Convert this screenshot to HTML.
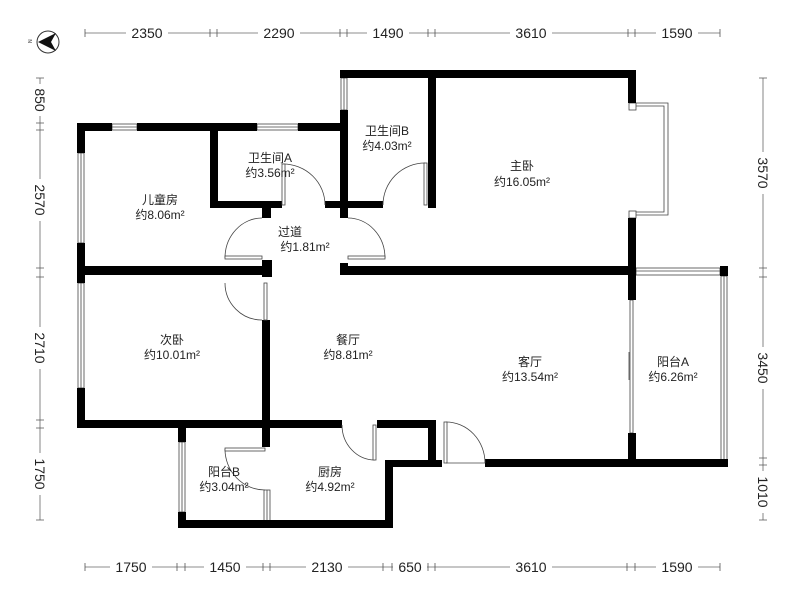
<!DOCTYPE html>
<html><head><meta charset="utf-8"><style>
html,body{margin:0;padding:0;background:#fff;}
svg{display:block;}
text{font-family:"Liberation Sans","Noto Sans CJK SC",sans-serif;}
</style></head><body>
<svg width="800" height="600" viewBox="0 0 800 600" xmlns="http://www.w3.org/2000/svg">
<rect width="800" height="600" fill="#fff"/>
<!-- compass -->
<circle cx="48" cy="42" r="11" fill="none" stroke="#333" stroke-width="1"/>
<polygon points="38,42 56,33 51,42 56,51" fill="#111"/>
<text x="30" y="45" font-size="5" fill="#333" transform="rotate(-90 30 43)">N</text>

<!-- dimension lines -->
<g stroke="#666" stroke-width="0.8" fill="none">
<line x1="85" y1="33" x2="720" y2="33"/>
<line x1="85" y1="567" x2="720" y2="567"/>
<line x1="40" y1="78" x2="40" y2="520"/>
<line x1="763" y1="78" x2="763" y2="520"/>
<g stroke="#555">
<path d="M85,29v8M210,29v8M217,29v8M340,29v8M347,29v8M428,29v8M435,29v8M628,29v8M635,29v8M720,29v8"/>
<path d="M85,563v8M177,563v8M185,563v8M263,563v8M270,563v8M383,563v8M392,563v8M428,563v8M435,563v8M627,563v8M635,563v8M720,563v8"/>
<path d="M36,78h8M36,123h8M36,130h8M36,268h8M36,277h8M36,420h8M36,428h8M36,520h8"/>
<path d="M759,78h8M759,268h8M759,277h8M759,458h8M759,465h8M759,520h8"/>
</g>
</g>
<g font-size="14" fill="#222" text-anchor="middle">
<rect x="126" y="25" width="42" height="16" fill="#fff"/><text x="147" y="38">2350</text>
<rect x="258" y="25" width="42" height="16" fill="#fff"/><text x="279" y="38">2290</text>
<rect x="367" y="25" width="42" height="16" fill="#fff"/><text x="388" y="38">1490</text>
<rect x="510" y="25" width="42" height="16" fill="#fff"/><text x="531" y="38">3610</text>
<rect x="656" y="25" width="42" height="16" fill="#fff"/><text x="677" y="38">1590</text>
<rect x="110" y="559" width="42" height="16" fill="#fff"/><text x="131" y="572">1750</text>
<rect x="204" y="559" width="42" height="16" fill="#fff"/><text x="225" y="572">1450</text>
<rect x="306" y="559" width="42" height="16" fill="#fff"/><text x="327" y="572">2130</text>
<rect x="393" y="559" width="34" height="16" fill="#fff"/><text x="410" y="572">650</text>
<rect x="510" y="559" width="42" height="16" fill="#fff"/><text x="531" y="572">3610</text>
<rect x="656" y="559" width="42" height="16" fill="#fff"/><text x="677" y="572">1590</text>
<g transform="translate(40,100) rotate(90)"><rect x="-16" y="-9" width="32" height="16" fill="#fff"/><text x="0" y="5">850</text></g>
<g transform="translate(40,200) rotate(90)"><rect x="-21" y="-9" width="42" height="16" fill="#fff"/><text x="0" y="5">2570</text></g>
<g transform="translate(40,348) rotate(90)"><rect x="-21" y="-9" width="42" height="16" fill="#fff"/><text x="0" y="5">2710</text></g>
<g transform="translate(40,474) rotate(90)"><rect x="-21" y="-9" width="42" height="16" fill="#fff"/><text x="0" y="5">1750</text></g>
<g transform="translate(763,173) rotate(90)"><rect x="-21" y="-9" width="42" height="16" fill="#fff"/><text x="0" y="5">3570</text></g>
<g transform="translate(763,368) rotate(90)"><rect x="-21" y="-9" width="42" height="16" fill="#fff"/><text x="0" y="5">3450</text></g>
<g transform="translate(763,492) rotate(90)"><rect x="-21" y="-9" width="42" height="16" fill="#fff"/><text x="0" y="5">1010</text></g>
</g>

<!-- windows (thin lines) -->
<g stroke="#444" stroke-width="0.8" fill="#fff">
<rect x="112" y="124" width="25" height="6"/><line x1="112" y1="127" x2="137" y2="127"/>
<rect x="257" y="124" width="41" height="6"/><line x1="257" y1="127" x2="298" y2="127"/>
<rect x="78" y="153" width="6" height="90"/><line x1="81" y1="153" x2="81" y2="243"/>
<rect x="78" y="283" width="6" height="105"/><line x1="81" y1="283" x2="81" y2="388"/>
<rect x="341" y="78" width="6" height="32"/><line x1="344" y1="78" x2="344" y2="110"/>
<rect x="179" y="442" width="6" height="70"/><line x1="182" y1="442" x2="182" y2="512"/>
<rect x="264" y="490" width="6" height="32"/><line x1="267" y1="490" x2="267" y2="522"/>
<rect x="636" y="268" width="84" height="7"/><line x1="636" y1="271" x2="720" y2="271"/>
<rect x="721" y="276" width="6" height="184"/><line x1="724" y1="276" x2="724" y2="460"/>
<polyline points="636,103 668,103 668,215 636,215" fill="none"/>
<polyline points="636,106 664,106 664,212 636,212" fill="none"/>
<rect x="629" y="103" width="7" height="7"/><rect x="629" y="211" width="7" height="7"/>
<rect x="630" y="300" width="3" height="133"/>
<line x1="629" y1="352" x2="629" y2="380"/>
</g>

<!-- walls -->
<g fill="#000">
<!-- kids top -->
<rect x="77" y="123" width="35" height="8"/>
<rect x="137" y="123" width="120" height="8"/>
<rect x="298" y="123" width="50" height="8"/>
<!-- left wall -->
<rect x="77" y="123" width="8" height="30"/>
<rect x="77" y="243" width="8" height="40"/>
<rect x="77" y="388" width="8" height="40"/>
<!-- bath A -->
<rect x="210" y="127" width="8" height="81"/>
<rect x="210" y="201" width="72" height="7"/>
<rect x="325" y="201" width="58" height="7"/>
<!-- bath B -->
<rect x="340" y="70" width="295" height="8"/>
<rect x="340" y="110" width="8" height="108"/>
<rect x="428" y="70" width="8" height="138"/>
<!-- master right -->
<rect x="628" y="70" width="8" height="33"/>
<rect x="628" y="218" width="8" height="82"/>
<rect x="340" y="266" width="296" height="9"/>
<!-- passage blocks -->
<rect x="262" y="206" width="9" height="12"/>
<rect x="340" y="263" width="8" height="12"/>
<!-- kids bottom -->
<rect x="77" y="266" width="195" height="9"/>
<rect x="262" y="260" width="10" height="17"/>
<!-- second bedroom -->
<rect x="262" y="320" width="8" height="127"/>
<rect x="77" y="420" width="265" height="8"/>
<rect x="377" y="420" width="59" height="8"/>
<rect x="428" y="420" width="8" height="47"/>
<rect x="385" y="460" width="57" height="7"/>
<rect x="385" y="460" width="8" height="68"/>
<!-- balcony B -->
<rect x="178" y="420" width="8" height="22"/>
<rect x="178" y="512" width="8" height="16"/>
<rect x="178" y="520" width="215" height="8"/>
<!-- living bottom -->
<rect x="485" y="459" width="243" height="8"/>
<rect x="628" y="433" width="8" height="34"/>
<rect x="720" y="266" width="8" height="10"/>
<rect x="720" y="460" width="8" height="7"/>
</g>

<!-- doors -->
<g stroke="#444" stroke-width="0.8" fill="none">
<path d="M225,258 A37,40 0 0 1 262,218"/><rect x="225" y="256" width="37" height="3" fill="#fff"/>
<path d="M385,258 A37,40 0 0 0 348,218"/><rect x="348" y="256" width="37" height="3" fill="#fff"/>
<path d="M283,164 A42,41 0 0 1 325,205"/><rect x="282" y="164" width="3" height="41" fill="#fff"/>
<path d="M383,205 A42,42 0 0 1 425,163"/><rect x="424" y="163" width="3" height="42" fill="#fff"/>
<path d="M225,283 A37,37 0 0 0 262,320"/><rect x="264" y="283" width="3" height="37" fill="#fff"/>
<path d="M342,425 A33,35 0 0 0 375,460"/><rect x="373" y="425" width="3" height="35" fill="#fff"/>
<path d="M446,422 A39,41 0 0 1 485,463"/><rect x="444" y="422" width="3" height="41" fill="#fff"/><line x1="446" y1="463" x2="485" y2="463"/>
<path d="M225,449 A40,41 0 0 0 265,490"/><rect x="225" y="448" width="40" height="3" fill="#fff"/>
</g>

<!-- labels -->
<g font-size="12" fill="#222" text-anchor="middle">
<text x="160" y="204">儿童房</text><text x="160" y="219">约8.06m²</text>
<text x="270" y="162">卫生间A</text><text x="270" y="177">约3.56m²</text>
<text x="387" y="135">卫生间B</text><text x="387" y="150">约4.03m²</text>
<text x="522" y="170">主卧</text><text x="522" y="186">约16.05m²</text>
<text x="290" y="236">过道</text><text x="305" y="251">约1.81m²</text>
<text x="172" y="344">次卧</text><text x="172" y="359">约10.01m²</text>
<text x="348" y="344">餐厅</text><text x="348" y="359">约8.81m²</text>
<text x="530" y="366">客厅</text><text x="530" y="381">约13.54m²</text>
<text x="673" y="366">阳台A</text><text x="673" y="381">约6.26m²</text>
<text x="224" y="476">阳台B</text><text x="224" y="491">约3.04m²</text>
<text x="330" y="476">厨房</text><text x="330" y="491">约4.92m²</text>
</g>
</svg>
</body></html>
